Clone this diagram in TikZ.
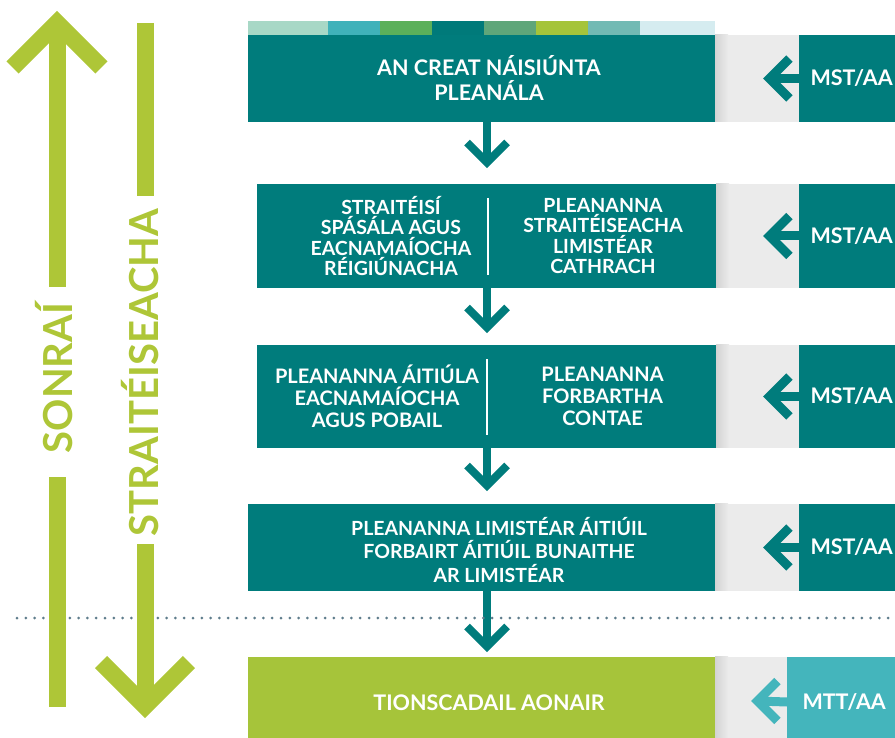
\documentclass[tikz,border=0pt]{standalone}
\usepackage{fontspec}
\setmainfont{Lato}
\usetikzlibrary{positioning}

\definecolor{tealbox}{HTML}{007C7C}
\definecolor{panelgray}{HTML}{EBEBEB}
\definecolor{limebox}{HTML}{A6C43A}
\definecolor{limearrow}{HTML}{AEC637}
\definecolor{mttblue}{HTML}{44B5BC}
\definecolor{dotgray}{HTML}{5F7D8C}
\definecolor{stripA}{HTML}{A8D8C6}
\definecolor{stripB}{HTML}{40B2BA}
\definecolor{stripC}{HTML}{5BB05A}
\definecolor{stripD}{HTML}{007A7A}
\definecolor{stripE}{HTML}{5FA67A}
\definecolor{stripF}{HTML}{A5C43A}
\definecolor{stripG}{HTML}{72BAB4}
\definecolor{stripH}{HTML}{D5ECF0}

\begin{document}
\begin{tikzpicture}[x=1pt,y=-1pt,
    box/.style={rectangle,fill=tealbox,inner sep=0pt},
    txt/.style={text=white,align=center,font=\bfseries\fontsize{21.5}{25}\selectfont},
    panel/.style={rectangle,fill=panelgray,inner sep=0pt,minimum width=190pt},
    tag/.style={rectangle,fill=tealbox,inner sep=0pt,anchor=west,text=white,font=\bfseries\fontsize{21.5}{24}\selectfont},
    link/.style={draw=tealbox,line width=8pt,line join=miter},
    back/.style={draw=#1,line width=9pt,line join=miter},
    side/.style={text=limearrow,rotate=90,anchor=base,font=\bfseries\fontsize{40}{48}\selectfont},
    big/.style={draw=limearrow,line width=17pt,line join=miter},
    dots/.style={draw=dotgray,line width=3pt,line cap=round,dash pattern=on 0pt off 8.8pt},
    fade/.style={left color=panelgray!90!black,right color=panelgray,draw=none}]
    \useasboundingbox (0,0) rectangle (895,738);

    % colour strip on top
    \fill[stripA] (248,21) rectangle (328,35);
    \fill[stripB] (328,21) rectangle (380,35);
    \fill[stripC] (380,21) rectangle (432,35);
    \fill[stripD] (432,21) rectangle (484,35);
    \fill[stripE] (484,21) rectangle (536,35);
    \fill[stripF] (536,21) rectangle (588,35);
    \fill[stripG] (588,21) rectangle (640,35);
    \fill[stripH] (640,21) rectangle (715,35);

    % main boxes
    \node[box,minimum width=467pt,minimum height=87pt](b1) at (481.5,78.5){};
    \node[box,minimum width=459pt,minimum height=104pt](b2) at (486.5,236){};
    \node[box,minimum width=459pt,minimum height=103pt](b3) at (486.5,396.5){};
    \node[box,minimum width=467pt,minimum height=87pt](b4) at (481.5,547.5){};
    \node[box,fill=limebox,minimum width=467pt,minimum height=90pt](b5) at (481.5,702){};

    \node[txt](t1) at (489,78){AN CREAT NÁISIÚNTA\\PLEANÁLA};
    \node[txt,font=\bfseries\fontsize{19.5}{20.5}\selectfont](t2l) at (391,236)
        {STRAITÉISÍ\\SPÁSÁLA AGUS\\EACNAMAÍOCHA\\RÉIGIÚNACHA};
    \node[txt,font=\bfseries\fontsize{19.5}{20.5}\selectfont](t2r) at (603,236)
        {PLEANANNA\\STRAITÉISEACHA\\LIMISTÉAR\\CATHRACH};
    \node[txt,font=\bfseries\fontsize{20}{22}\selectfont](t3l) at (377,396)
        {PLEANANNA ÁITIÚLA\\EACNAMAÍOCHA\\AGUS POBAIL};
    \node[txt,font=\bfseries\fontsize{20}{22}\selectfont](t3r) at (602.5,396)
        {PLEANANNA\\FORBARTHA\\CONTAE};
    \node[txt,font=\bfseries\fontsize{19.5}{23.5}\selectfont](t4) at (499,550)
        {PLEANANNA LIMISTÉAR ÁITIÚIL\\FORBAIRT ÁITIÚIL BUNAITHE\\AR LIMISTÉAR};
    \node[txt](t5) at (489,703){TIONSCADAIL AONAIR};

    \draw[white,line width=2pt] (488,198) -- (488,275);
    \draw[white,line width=2pt] (487,359) -- (487,435);

    % side panels
    \node[panel,minimum height=87pt,right=0pt of b1](g1){};
    \node[panel,minimum height=104pt,right=0pt of b2](g2){};
    \node[panel,minimum height=103pt,right=0pt of b3](g3){};
    \node[panel,minimum height=87pt,right=0pt of b4](g4){};
    \node[panel,minimum height=90pt,right=0pt of b5](g5){};
    \shade[fade] (g1.north west) rectangle ++(13,87);
    \shade[fade] (g2.north west) rectangle ++(13,104);
    \shade[fade] (g3.north west) rectangle ++(13,103);
    \shade[fade] (g4.north west) rectangle ++(13,87);
    \shade[fade] (g5.north west) rectangle ++(13,90);

    \node[tag,minimum width=105pt,minimum height=87pt](m1) at (799,78.5){MST/AA};
    \node[tag,minimum width=105pt,minimum height=104pt](m2) at (799,236){MST/AA};
    \node[tag,minimum width=105pt,minimum height=103pt](m3) at (799,396.5){MST/AA};
    \node[tag,minimum width=105pt,minimum height=87pt](m4) at (799,547.5){MST/AA};
    \node[tag,fill=mttblue,minimum width=114pt,minimum height=90pt](m5) at (787,702){MTT/AA};

    \coordinate(p1) at (769.4,78.5);
    \coordinate(p2) at (769.4,236);
    \coordinate(p3) at (769.4,396.5);
    \coordinate(p4) at (769.4,547.5);
    \coordinate(p5) at (757.4,701);
    \draw[back=tealbox] (p1) -- (m1.west);
    \draw[back=tealbox] (p1) ++(20,-20) -- (p1) -- ++(20,20);
    \draw[back=tealbox] (p2) -- (m2.west);
    \draw[back=tealbox] (p2) ++(20,-20) -- (p2) -- ++(20,20);
    \draw[back=tealbox] (p3) -- (m3.west);
    \draw[back=tealbox] (p3) ++(20,-20) -- (p3) -- ++(20,20);
    \draw[back=tealbox] (p4) -- (m4.west);
    \draw[back=tealbox] (p4) ++(20,-20) -- (p4) -- ++(20,20);
    \draw[back=mttblue] (p5) -- (m5.west);
    \draw[back=mttblue] (p5) ++(20,-20) -- (p5) -- ++(20,20);

    % arrows down between the levels
    \coordinate(a1) at (487,162.5);
    \coordinate(a2) at (487,327.5);
    \coordinate(a3) at (487,485.5);
    \coordinate(a4) at (487,646.5);
    \draw[link] (b1.south -| a1) -- (a1);
    \draw[link] (a1) ++(-20,-20) -- (a1) -- ++(20,-20);
    \draw[link] (b2.south -| a2) -- (a2);
    \draw[link] (a2) ++(-20,-20) -- (a2) -- ++(20,-20);
    \draw[link] (b3.south -| a3) -- (a3);
    \draw[link] (a3) ++(-20,-20) -- (a3) -- ++(20,-20);
    \draw[link] (b4.south -| a4) -- (a4);
    \draw[link] (a4) ++(-20,-20) -- (a4) -- ++(20,-20);

    \draw[dots] (17,618) -- (895,618);

    % the two long arrows on the left
    \coordinate(s0) at (57,23);
    \coordinate(s1) at (57,287);
    \coordinate(s2) at (57,477);
    \coordinate(s3) at (57,707);
    \node[side](son) at (72,378){SONRAÍ};
    \draw[big] (s0) -- (s1);
    \draw[big] (s2) -- (s3);
    \draw[big] (s0) ++(-44.5,44.5) -- (s0) -- ++(44.5,44.5);

    \coordinate(r0) at (145,23);
    \coordinate(r1) at (145,196);
    \coordinate(r2) at (145,544);
    \coordinate(r3) at (145,706);
    \node[side](str) at (158,372.5){STRAITÉISEACHA};
    \draw[big] (r0) -- (r1);
    \draw[big] (r2) -- (r3);
    \draw[big] (r3) ++(-44,-44) -- (r3) -- ++(44,-44);
\end{tikzpicture}
\end{document}
